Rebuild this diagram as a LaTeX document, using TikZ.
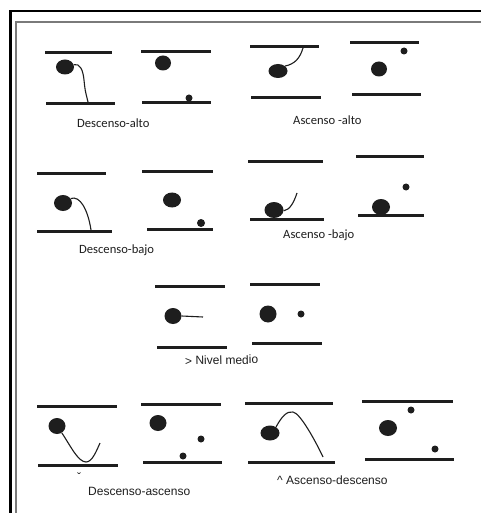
\documentclass[tikz,border=0pt]{standalone}
\usepackage{fontspec}
\usetikzlibrary{shapes.geometric}
\newfontfamily\calibfont{Carlito}
\newfontfamily\arialfont{Liberation Sans}
\definecolor{ink}{HTML}{1E1E1E}
\definecolor{frameink}{HTML}{7A7A7A}
\tikzset{
  staff/.style={line width=3bp, draw=ink},
  ball/.style={ellipse, fill=ink, inner sep=0pt, minimum width=#1},
  ball/.default=18bp,
  dot/.style={circle, fill=ink, inner sep=0pt, minimum size=7bp},
  contour/.style={line width=1.1bp, draw=ink},
  lblA/.style={anchor=base west, inner sep=0pt, font=\calibfont\fontsize{12.6bp}{14bp}\selectfont, text=ink},
  lblB/.style={anchor=base west, inner sep=0pt, font=\arialfont\fontsize{12bp}{14bp}\selectfont, text=ink},
}
\begin{document}
\begin{tikzpicture}[x=1bp, y=-1bp]
  \useasboundingbox (0,0) rectangle (481,513);
  \fill[white] (0,0) rectangle (481,513);
  % frame
  \draw[line width=2.6bp, black] (10.5,513) -- (10.5,11) -- (481,11);
  \draw[line width=1.3bp, frameink] (16,513) -- (16,22) -- (481,22);

  % ---- Descenso-alto / Ascenso-alto ----
  \draw[staff] (45,53) -- (112,53);  \draw[staff] (46,104) -- (115,104);
  \node[ball, minimum height=15bp] (a1) at (65,67) {};
  \draw[contour] (a1.15) .. controls (80,63) and (83,70) .. (84,80) .. controls (85,90) .. (88,102);

  \draw[staff] (141,52) -- (211,52); \draw[staff] (142,103) -- (211,103);
  \node[ball, minimum width=16bp, minimum height=15bp] (a2) at (163,63) {};
  \node[dot] (a2d) at (189,98) {};

  \draw[staff] (250,47) -- (319,47); \draw[staff] (251,98) -- (321,98);
  \node[ball, minimum width=19bp, minimum height=14bp] (a3) at (278,71) {};
  \draw[contour] (a3.35) .. controls (295,64) and (300,58) .. (303,48);

  \draw[staff] (350,43) -- (419,43); \draw[staff] (352,95) -- (421,95);
  \node[ball, minimum width=16bp, minimum height=15bp] (a4) at (379,69) {};
  \node[dot] (a4d) at (404,51) {};

  \node[lblA] (la1) at (77,128) {Descenso-alto};
  \node[lblA] (la2) at (293,125) {Ascenso -alto};

  % ---- Descenso-bajo / Ascenso-bajo ----
  \draw[staff] (37,174) -- (106,174); \draw[staff] (37,231) -- (112,231);
  \node[ball, minimum height=16bp] (b1) at (63,203) {};
  \draw[contour] (b1.30) .. controls (80,195) and (88,210) .. (91,230);

  \draw[staff] (142,172) -- (213,172); \draw[staff] (147,229) -- (213,229);
  \node[ball, minimum height=15bp] (b2) at (172,200) {};
  \node[dot, minimum size=8bp] (b2d) at (201,223) {};

  \draw[staff] (248,162) -- (323,162); \draw[staff] (250,219) -- (324,219);
  \node[ball, minimum width=19bp, minimum height=16bp] (b3) at (274,210) {};
  \draw[contour] (b3.-5) .. controls (290,210) and (294,202) .. (297,193);

  \draw[staff] (356,157) -- (424,157); \draw[staff] (358,215) -- (424,215);
  \node[ball, minimum height=16bp] (b4) at (381,207) {};
  \node[dot] (b4d) at (406,187) {};

  \node[lblA] (lb1) at (79,253) {Descenso-bajo};
  \node[lblA] (lb2) at (283,238) {Ascenso -bajo};

  % ---- Nivel medio ----
  \draw[staff] (155,286) -- (225,286); \draw[staff] (157,347) -- (227,347);
  \node[ball, minimum width=17bp, minimum height=16bp] (m1) at (173,316) {};
  \draw[contour] (m1.east) -- (203,317);

  \draw[staff] (250,284) -- (320,284); \draw[staff] (252,343) -- (322,343);
  \node[ball, minimum width=17bp, minimum height=17bp] (m2) at (268,314) {};
  \node[dot] (m2d) at (301,314) {};

  \node[lblB, rotate=1] (lm) at (185,365) {> Nivel medio};

  % ---- Descenso-ascenso / Ascenso-descenso ----
  \draw[staff] (37,406) -- (117,406); \draw[staff] (38,465) -- (118,465);
  \node[ball, minimum width=17bp, minimum height=16bp] (c1) at (57,426) {};
  \draw[contour] (c1.-55) .. controls (70,445) and (78,462) .. (86,462) .. controls (92,462) and (96,452) .. (100,443);

  \draw[staff] (141,404) -- (221,404); \draw[staff] (143,462) -- (222,462);
  \node[ball, minimum width=17bp, minimum height=16bp] (c2) at (158,423) {};
  \node[dot] (c2d) at (201,439) {};
  \node[dot] (c2e) at (183,456) {};

  \draw[staff] (245,403) -- (333,403); \draw[staff] (248,462) -- (335,462);
  \node[ball, minimum width=19bp, minimum height=15bp] (c3) at (270,433) {};
  \draw[contour] (c3.45) .. controls (282,416) and (287,411) .. (293,412) .. controls (300,413) and (315,440) .. (323,457);

  \draw[staff] (362,401) -- (453,401); \draw[staff] (365,459) -- (454,459);
  \node[ball, minimum height=16bp] (c4) at (388,428) {};
  \node[dot] (c4d) at (411,410) {};
  \node[dot] (c4e) at (435,449) {};

  \node[lblB, anchor=center, font=\arialfont\fontsize{12bp}{14bp}\selectfont] (lcv) at (79,477) {ˇ};
  \node[lblB] (lc1) at (88,495) {Descenso-ascenso};
  \node[lblB] (lc2) at (277,484) {\textasciicircum\ Ascenso-descenso};
\end{tikzpicture}
\end{document}
